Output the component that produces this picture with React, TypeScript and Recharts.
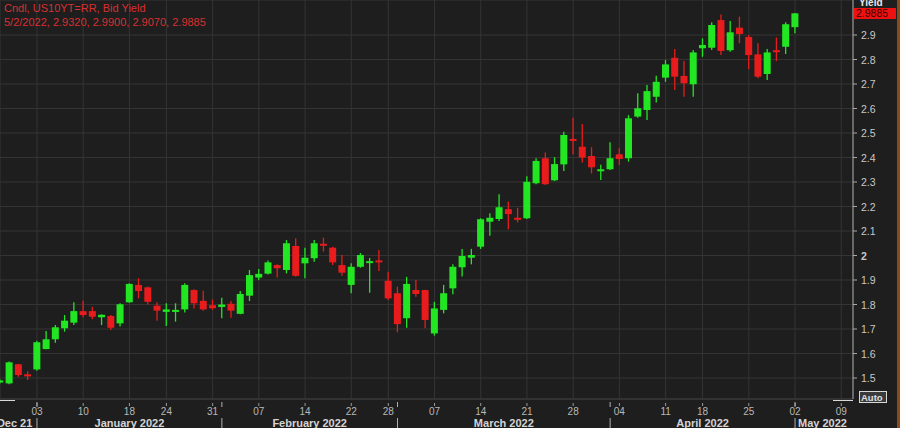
import React from 'react';
import { ComposedChart, Bar, XAxis, YAxis, CartesianGrid } from 'recharts';

// Daily candles, US 10Y yield (bid), Dec 28 2021 – May 2 2022
const dates = [
  '12/28/2021', '12/29/2021', '12/30/2021', '12/31/2021',
  '1/3/2022', '1/4/2022', '1/5/2022', '1/6/2022', '1/7/2022',
  '1/10/2022', '1/11/2022', '1/12/2022', '1/13/2022', '1/14/2022',
  '1/18/2022', '1/19/2022', '1/20/2022', '1/21/2022',
  '1/24/2022', '1/25/2022', '1/26/2022', '1/27/2022', '1/28/2022',
  '1/31/2022', '2/1/2022', '2/2/2022', '2/3/2022', '2/4/2022',
  '2/7/2022', '2/8/2022', '2/9/2022', '2/10/2022', '2/11/2022',
  '2/14/2022', '2/15/2022', '2/16/2022', '2/17/2022', '2/18/2022',
  '2/22/2022', '2/23/2022', '2/24/2022', '2/25/2022',
  '2/28/2022', '3/1/2022', '3/2/2022', '3/3/2022', '3/4/2022',
  '3/7/2022', '3/8/2022', '3/9/2022', '3/10/2022', '3/11/2022',
  '3/14/2022', '3/15/2022', '3/16/2022', '3/17/2022', '3/18/2022',
  '3/21/2022', '3/22/2022', '3/23/2022', '3/24/2022', '3/25/2022',
  '3/28/2022', '3/29/2022', '3/30/2022', '3/31/2022', '4/1/2022',
  '4/4/2022', '4/5/2022', '4/6/2022', '4/7/2022', '4/8/2022',
  '4/11/2022', '4/12/2022', '4/13/2022', '4/14/2022',
  '4/18/2022', '4/19/2022', '4/20/2022', '4/21/2022', '4/22/2022',
  '4/25/2022', '4/26/2022', '4/27/2022', '4/28/2022', '4/29/2022',
  '5/2/2022',
];

const opens = [
  1.485, 1.478, 1.556, 1.515,
  1.535, 1.618, 1.658, 1.703, 1.726,
  1.773, 1.773, 1.748, 1.753, 1.723,
  1.809, 1.880, 1.870, 1.795,
  1.770, 1.770, 1.780, 1.859, 1.815,
  1.797, 1.790, 1.803, 1.762, 1.836,
  1.910, 1.926, 1.961, 1.941, 2.039,
  1.968, 1.989, 2.048, 2.032, 1.961,
  1.880, 1.954, 1.972, 1.980,
  1.897, 1.846, 1.744, 1.859, 1.859,
  1.682, 1.778, 1.866, 1.952, 1.991,
  2.036, 2.138, 2.149, 2.189, 2.154,
  2.152, 2.295, 2.397, 2.307, 2.372,
  2.476, 2.444, 2.406, 2.345, 2.352,
  2.413, 2.397, 2.567, 2.594, 2.648,
  2.726, 2.807, 2.733, 2.699,
  2.846, 2.848, 2.961, 2.838, 2.930,
  2.892, 2.821, 2.741, 2.838, 2.852,
  2.932,
];

const highs = [
  1.495, 1.567, 1.558, 1.527,
  1.652, 1.692, 1.716, 1.757, 1.809,
  1.815, 1.791, 1.760, 1.757, 1.805,
  1.887, 1.907, 1.873, 1.809,
  1.805, 1.805, 1.887, 1.862, 1.856,
  1.820, 1.828, 1.814, 1.855, 1.941,
  1.945, 1.980, 1.964, 2.063, 2.070,
  2.032, 2.063, 2.073, 2.036, 2.002,
  1.968, 2.010, 1.990, 2.022,
  1.934, 1.873, 1.913, 1.900, 1.860,
  1.811, 1.880, 1.964, 2.027, 2.027,
  2.152, 2.172, 2.250, 2.220, 2.195,
  2.324, 2.397, 2.420, 2.401, 2.505,
  2.562, 2.537, 2.442, 2.370, 2.462,
  2.440, 2.573, 2.662, 2.696, 2.734,
  2.798, 2.843, 2.794, 2.839,
  2.886, 2.952, 2.984, 2.957, 2.975,
  2.900, 2.866, 2.843, 2.890, 2.952,
  2.990,
];

const lows = [
  1.478, 1.475, 1.505, 1.492,
  1.530, 1.617, 1.644, 1.689, 1.716,
  1.748, 1.740, 1.716, 1.696, 1.710,
  1.807, 1.825, 1.800, 1.734,
  1.712, 1.730, 1.767, 1.784, 1.775,
  1.778, 1.744, 1.746, 1.760, 1.814,
  1.900, 1.922, 1.910, 1.927, 1.913,
  1.907, 1.975, 2.016, 1.961, 1.917,
  1.846, 1.950, 1.848, 1.937,
  1.818, 1.687, 1.705, 1.832, 1.703,
  1.673, 1.764, 1.842, 1.914, 1.964,
  2.027, 2.081, 2.141, 2.107, 2.135,
  2.149, 2.291, 2.288, 2.304, 2.345,
  2.413, 2.380, 2.335, 2.308, 2.349,
  2.369, 2.383, 2.562, 2.553, 2.625,
  2.709, 2.676, 2.648, 2.648,
  2.811, 2.839, 2.818, 2.832, 2.866,
  2.761, 2.723, 2.716, 2.794, 2.822,
  2.907,
];

const closes = [
  1.490, 1.564, 1.512, 1.510,
  1.646, 1.658, 1.707, 1.734, 1.773,
  1.757, 1.750, 1.758, 1.705, 1.801,
  1.884, 1.855, 1.811, 1.775,
  1.780, 1.778, 1.880, 1.805, 1.780,
  1.785, 1.800, 1.775, 1.843, 1.920,
  1.925, 1.972, 1.948, 2.050, 1.917,
  1.991, 2.050, 2.043, 1.972, 1.930,
  1.954, 2.002, 1.977, 1.975,
  1.825, 1.720, 1.884, 1.843, 1.737,
  1.784, 1.846, 1.954, 1.998, 2.002,
  2.148, 2.154, 2.197, 2.169, 2.147,
  2.301, 2.386, 2.291, 2.373, 2.492,
  2.471, 2.400, 2.360, 2.352, 2.397,
  2.394, 2.560, 2.601, 2.671, 2.709,
  2.780, 2.730, 2.703, 2.829,
  2.859, 2.941, 2.835, 2.911, 2.904,
  2.818, 2.730, 2.829, 2.833, 2.944,
  2.9885,
];

// trading-day index, Jan 3 2022 = 0
const FIRST_DAY = -4;

const dayTicks = [0, 5, 10, 14, 19, 24, 29, 34, 38, 43, 48, 53, 58, 63, 68, 72, 77, 82, 87];
const dayTickLabels = ['03', '10', '18', '24', '31', '07', '14', '22', '28', '07', '14', '21', '28', '04', '11', '18', '25', '02', '09'];

const monthStarts = [0, 20, 39, 62, 82];
const monthLabelDays = [-0.5, 10, 29.5, 50.5, 72, 82];
const monthNames = ['Dec 21', 'January 2022', 'February 2022', 'March 2022', 'April 2022', 'May 2022'];

const yieldTicks = [1.5, 1.6, 1.7, 1.8, 1.9, 2, 2.1, 2.2, 2.3, 2.4, 2.5, 2.6, 2.7, 2.8, 2.9];

const X_DOMAIN = [-4, 88.27];
const Y_DOMAIN = [1.4143, 3.0429];

const BG = '#1e1e1e';
const GRID = '#343434';
const UP = '#22e622';
const DOWN = '#e81c1c';
const FONT = '"Liberation Sans", Arial, sans-serif';

const candles = dates.map((date, k) => ({
  day: k + FIRST_DAY,
  date,
  open: opens[k],
  high: highs[k],
  low: lows[k],
  close: closes[k],
}));

const monthTicks = Array.from(new Set([...monthStarts, ...monthLabelDays])).sort((a, b) => a - b);

const Candle = (props: any) => {
  const { x, y, width, height, payload } = props;
  if (!payload || height == null) return null;
  const { open, close, high, low } = payload;
  const color = close >= open ? UP : DOWN;
  const k = height / (high - low || 1);
  const py = (v: number) => y + (high - v) * k;
  const top = py(Math.max(open, close));
  const bot = py(Math.min(open, close));
  const cx = x + width / 2;
  return (
    <g>
      <line x1={cx} x2={cx} y1={y} y2={y + height} stroke={color} strokeWidth={1.3} />
      <rect x={x} y={top} width={width} height={Math.max(2, bot - top)} fill={color} />
    </g>
  );
};

const DayTick = (props: any) => {
  const { x, y, payload } = props;
  const idx = dayTicks.indexOf(payload.value);
  return (
    <g>
      <line x1={x} x2={x} y1={y - 4} y2={y - 1} stroke="#9a9a9a" />
      <text x={x} y={y + 8} textAnchor="middle" fill="#b8b8b8" fontSize={10} fontFamily={FONT}>
        {dayTickLabels[idx]}
      </text>
    </g>
  );
};

const MonthTick = (props: any) => {
  const { x, y, payload } = props;
  const v = payload.value;
  const li = monthLabelDays.indexOf(v);
  const isStart = monthStarts.includes(v);
  let anchor: 'start' | 'middle' | 'end' = 'middle';
  let tx = x;
  if (li === 0) anchor = 'end';
  if (li === monthNames.length - 1) { anchor = 'start'; tx = x + 3; }
  return (
    <g>
      {isStart && <line x1={x} x2={x} y1={y - 23} y2={y - 18} stroke="#b0b0b0" />}
      {isStart && <line x1={x} x2={x} y1={y - 7} y2={y + 4} stroke="#b0b0b0" />}
      {li >= 0 && (
        <text x={tx} y={y + 2} textAnchor={anchor} fill="#d4d4d4" fontSize={11} fontWeight="bold" fontFamily={FONT}>
          {monthNames[li]}
        </text>
      )}
    </g>
  );
};

const YieldTick = (props: any) => {
  const { x, y, payload } = props;
  const v = payload.value;
  return (
    <g>
      <line x1={x - 8} x2={x - 4} y1={y} y2={y} stroke="#a8a8a8" />
      <text x={x} y={y + 4} fill="#c8c8c8" fontSize={10.5} fontWeight={v === 2 ? 'bold' : 'normal'} fontFamily={FONT}>
        {String(v)}
      </text>
    </g>
  );
};

export default function App() {
  const last = candles[candles.length - 1];
  const ohlc = [last.open, last.high, last.low, last.close].map((v) => v.toFixed(4)).join(', ');

  return (
    <div style={{ position: 'absolute', left: 0, top: 0, width: 900, height: 428, background: BG, overflow: 'hidden' }}>
      <style>{`body{margin:0;background:${BG}}`}</style>
      <ComposedChart width={900} height={428} data={candles} margin={{ top: 0, right: 0, bottom: 0, left: 0 }}>
        <CartesianGrid stroke={GRID} />
        <XAxis
          dataKey="day"
          type="number"
          domain={X_DOMAIN}
          allowDataOverflow
          ticks={dayTicks}
          interval={0}
          height={18}
          tick={(p: any) => <DayTick {...p} />}
          tickLine={false}
          axisLine={{ stroke: '#3c3c3c' }}
        />
        <XAxis
          xAxisId="m"
          dataKey="day"
          type="number"
          domain={X_DOMAIN}
          allowDataOverflow
          ticks={monthTicks}
          interval={0}
          height={11}
          tick={(p: any) => <MonthTick {...p} />}
          tickLine={false}
          axisLine={false}
        />
        <YAxis
          orientation="right"
          type="number"
          domain={Y_DOMAIN}
          allowDataOverflow
          ticks={yieldTicks}
          interval={0}
          width={47}
          tick={(p: any) => <YieldTick {...p} />}
          tickLine={false}
          axisLine={{ stroke: '#a8a8a8' }}
        />
        <Bar
          dataKey={(d: any) => [d.low, d.high]}
          barSize={7}
          shape={(p: any) => <Candle {...p} />}
          isAnimationActive={false}
        />
      </ComposedChart>

      <svg width={900} height={428} style={{ position: 'absolute', left: 0, top: 0, pointerEvents: 'none' }}>
        <text x={4} y={12} fill="#d83030" fontSize={11} fontFamily={FONT}>Cndl, US10YT=RR, Bid Yield</text>
        <text x={4} y={26} fill="#d83030" fontSize={11} fontFamily={FONT}>{`${last.date}, ${ohlc}`}</text>

        <text x={859} y={6} fill="#e8e8e8" fontSize={10} fontWeight="bold" fontFamily={FONT}>Yield</text>
        <rect x={854} y={8} width={42} height={11} fill="#ee1111" />
        <text x={856} y={17} fill="#3a0000" fontSize={10.5} fontFamily={FONT}>{last.close.toFixed(4)}</text>

        <line x1={0} x2={15} y1={400.5} y2={400.5} stroke="#d8d8d8" />
        <line x1={833} x2={853} y1={400.5} y2={400.5} stroke="#d8d8d8" />
        <rect x={859.5} y={391.5} width={27} height={11} fill="#3a3a3a" stroke="#d8d8d8" />
        <text x={861} y={400.5} fill="#e0e0e0" fontSize={9.5} fontWeight="bold" fontFamily={FONT}>Auto</text>

        <rect x={897} y={0} width={3} height={428} fill="#8a4a1a" />
      </svg>
    </div>
  );
}
